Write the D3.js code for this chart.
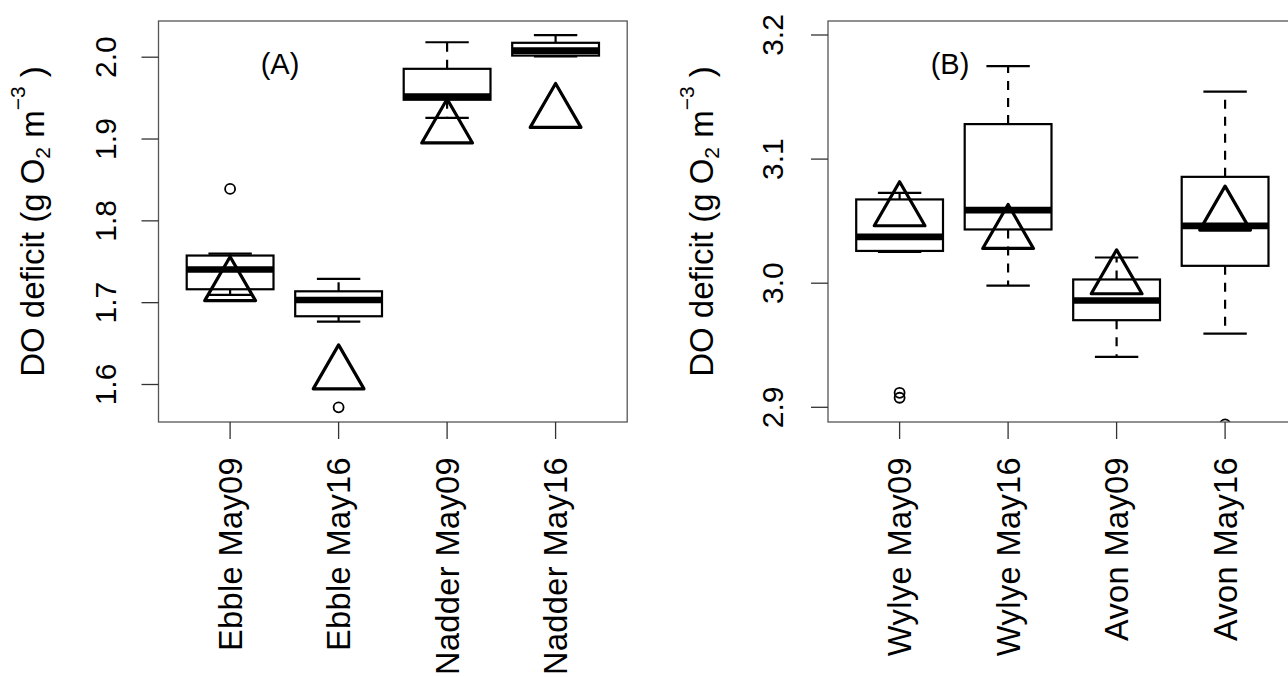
<!DOCTYPE html>
<html>
<head>
<meta charset="utf-8">
<script src="https://cdn.jsdelivr.net/npm/d3@7"></script>
<style>
  body { margin: 0; background: #fff; }
  text { font-family: "Liberation Sans", Arial, sans-serif; fill: #000; }
</style>
</head>
<body>
<svg id="chart"></svg>
<script>
// panel A
const groupsA = ['Ebble May09', 'Ebble May16', 'Nadder May09', 'Nadder May16'];
const lowA = [1.7095, 1.6769, 1.9259, 2.001];
const q1A = [1.7164, 1.6834, 1.948, 2.002];
const medA = [1.7405, 1.7032, 1.952, 2.008];
const q3A = [1.7576, 1.7139, 1.9858, 2.0176];
const highA = [1.760, 1.7291, 2.0183, 2.0269];
const outA = [[1.839], [1.5721], [], []];
const triA = [1.7204, 1.6126, 1.9131, 1.9321];
const ticksA = [1.6, 1.7, 1.8, 1.9, 2.0];

// panel B
const groupsB = ['Wylye May09', 'Wylye May16', 'Avon May09', 'Avon May16'];
const lowB = [3.0252, 2.9981, 2.9406, 2.9594];
const q1B = [3.026, 3.0433, 2.9702, 3.014];
const medB = [3.0373, 3.0589, 2.986, 3.0462];
const q3B = [3.0675, 3.1282, 3.003, 3.0857];
const highB = [3.0728, 3.175, 3.0207, 3.1543];
const outB = [[2.9117, 2.9077], [], [], [2.8863]];
const triB = [3.0581, 3.0398, 3.0033, 3.0546];
const ticksB = [2.9, 3.0, 3.1, 3.2];

const width = 1288;
const height = 677;

const svg = d3.select('#chart')
  .attr('width', width)
  .attr('height', height)
  .attr('viewBox', `0 0 ${width} ${height}`);

svg.append('rect').attr('width', width).attr('height', height).attr('fill', '#fff');

function drawPanel(p) {
  const frame = { left: p.left, top: 21, width: 468.7, height: 401 };
  const g = svg.append('g');

  const x = d3.scaleLinear()
    .domain([0.34, 4.66])
    .range([frame.left, frame.left + frame.width]);
  const y = d3.scaleLinear()
    .domain(p.yDomain)
    .range(p.yRange);

  const rows = p.groups.map((name, i) => ({
    name: name,
    pos: i + 1,
    low: p.low[i], q1: p.q1[i], med: p.med[i], q3: p.q3[i], high: p.high[i],
    out: p.out[i], tri: p.tri[i],
  }));

  const clipId = 'clip' + p.id;
  svg.append('clipPath').attr('id', clipId)
    .append('rect')
    .attr('x', frame.left).attr('y', frame.top)
    .attr('width', frame.width).attr('height', frame.height);

  const plot = g.append('g').attr('clip-path', `url(#${clipId})`);

  // whiskers (dashed), drawn out from the box
  plot.selectAll('.wlo').data(rows).enter().append('line')
    .attr('x1', d => x(d.pos)).attr('x2', d => x(d.pos))
    .attr('y1', d => y(d.q1)).attr('y2', d => y(d.low))
    .attr('stroke', '#000').attr('stroke-width', 2.2)
    .attr('stroke-dasharray', '9,8');
  plot.selectAll('.whi').data(rows).enter().append('line')
    .attr('x1', d => x(d.pos)).attr('x2', d => x(d.pos))
    .attr('y1', d => y(d.q3)).attr('y2', d => y(d.high))
    .attr('stroke', '#000').attr('stroke-width', 2.2)
    .attr('stroke-dasharray', '9,8');

  // staples
  ['low', 'high'].forEach(k => {
    plot.selectAll('.st' + k).data(rows).enter().append('line')
      .attr('x1', d => x(d.pos - 0.2)).attr('x2', d => x(d.pos + 0.2))
      .attr('y1', d => y(d[k])).attr('y2', d => y(d[k]))
      .attr('stroke', '#000').attr('stroke-width', 2.2);
  });

  // boxes
  plot.selectAll('.box').data(rows).enter().append('rect')
    .attr('x', d => x(d.pos - 0.4))
    .attr('width', x(1.4) - x(0.6))
    .attr('y', d => y(d.q3))
    .attr('height', d => y(d.q1) - y(d.q3))
    .attr('fill', '#fff')
    .attr('stroke', '#000').attr('stroke-width', 2.2);

  // medians
  plot.selectAll('.med').data(rows).enter().append('line')
    .attr('x1', d => x(d.pos - 0.4)).attr('x2', d => x(d.pos + 0.4))
    .attr('y1', d => y(d.med)).attr('y2', d => y(d.med))
    .attr('stroke', '#000').attr('stroke-width', 6.6);

  // outliers
  const outs = [];
  rows.forEach(d => d.out.forEach(v => outs.push({ pos: d.pos, v: v })));
  plot.selectAll('.out').data(outs).enter().append('circle')
    .attr('cx', d => x(d.pos)).attr('cy', d => y(d.v))
    .attr('r', 5)
    .attr('fill', 'none').attr('stroke', '#000').attr('stroke-width', 1.8);

  // triangles (open, point-up)
  const r = 29.3;
  const hw = r * Math.sqrt(3) / 2;
  plot.selectAll('.tri').data(rows).enter().append('path')
    .attr('d', d => {
      const cx = x(d.pos), cy = y(d.tri);
      return `M${cx},${cy - r}L${cx + hw},${cy + r / 2}L${cx - hw},${cy + r / 2}Z`;
    })
    .attr('fill', 'none').attr('stroke', '#000')
    .attr('stroke-width', 3.2).attr('stroke-linejoin', 'round');

  // frame
  g.append('rect')
    .attr('x', frame.left).attr('y', frame.top)
    .attr('width', frame.width).attr('height', frame.height)
    .attr('fill', 'none').attr('stroke', '#555').attr('stroke-width', 1.3);

  // x axis ticks and rotated labels
  const xAxis = g.append('g');
  xAxis.selectAll('line').data(rows).enter().append('line')
    .attr('x1', d => x(d.pos)).attr('x2', d => x(d.pos))
    .attr('y1', frame.top + frame.height).attr('y2', frame.top + frame.height + 17)
    .attr('stroke', '#333').attr('stroke-width', 1.3);
  xAxis.selectAll('text').data(rows).enter().append('text')
    .attr('transform', d => `translate(${x(d.pos)},457) rotate(-90)`)
    .attr('text-anchor', 'end')
    .attr('dy', '0.36em')
    .style('font-size', '32.5px')
    .style('letter-spacing', '0.4px')
    .text(d => d.name);

  // y axis ticks and labels
  const yAxis = g.append('g');
  yAxis.selectAll('line').data(p.ticks).enter().append('line')
    .attr('x1', frame.left - 17).attr('x2', frame.left)
    .attr('y1', d => y(d)).attr('y2', d => y(d))
    .attr('stroke', '#333').attr('stroke-width', 1.3);
  yAxis.selectAll('text').data(p.ticks).enter().append('text')
    .attr('transform', d => `translate(${frame.left - p.labelOff},${y(d)}) rotate(-90)`)
    .attr('text-anchor', 'middle')
    .attr('dy', '0.36em')
    .style('font-size', '30px')
    .text(d => d.toFixed(1));

  // y title
  const title = g.append('text')
    .attr('transform', `translate(${frame.left - 115},${frame.top + frame.height / 2}) rotate(-90)`)
    .attr('text-anchor', 'middle')
    .style('font-size', '33px');
  title.append('tspan').text('DO deficit (g O');
  title.append('tspan').attr('dy', 6).style('font-size', '21px').text('2');
  title.append('tspan').attr('dy', -6).text(' m');
  title.append('tspan').attr('dy', -19).style('font-size', '21px').text('\u22123');
  title.append('tspan').attr('dy', 19).text(' )');

  // panel tag
  g.append('text')
    .attr('x', p.tagX).attr('y', 74)
    .attr('text-anchor', 'middle')
    .style('font-size', '29px')
    .text(p.tag);
}

drawPanel({
  id: 'A', left: 158.5, groups: groupsA,
  low: lowA, q1: q1A, med: medA, q3: q3A, high: highA, out: outA, tri: triA,
  ticks: ticksA, yDomain: [1.6, 2.0], yRange: [384.5, 57.2],
  labelOff: 53, tag: '(A)', tagX: 280,
});

drawPanel({
  id: 'B', left: 828, groups: groupsB,
  low: lowB, q1: q1B, med: medB, q3: q3B, high: highB, out: outB, tri: triB,
  ticks: ticksB, yDomain: [2.9, 3.2], yRange: [407.3, 35],
  labelOff: 56, tag: '(B)', tagX: 950,
});
</script>
</body>
</html>
